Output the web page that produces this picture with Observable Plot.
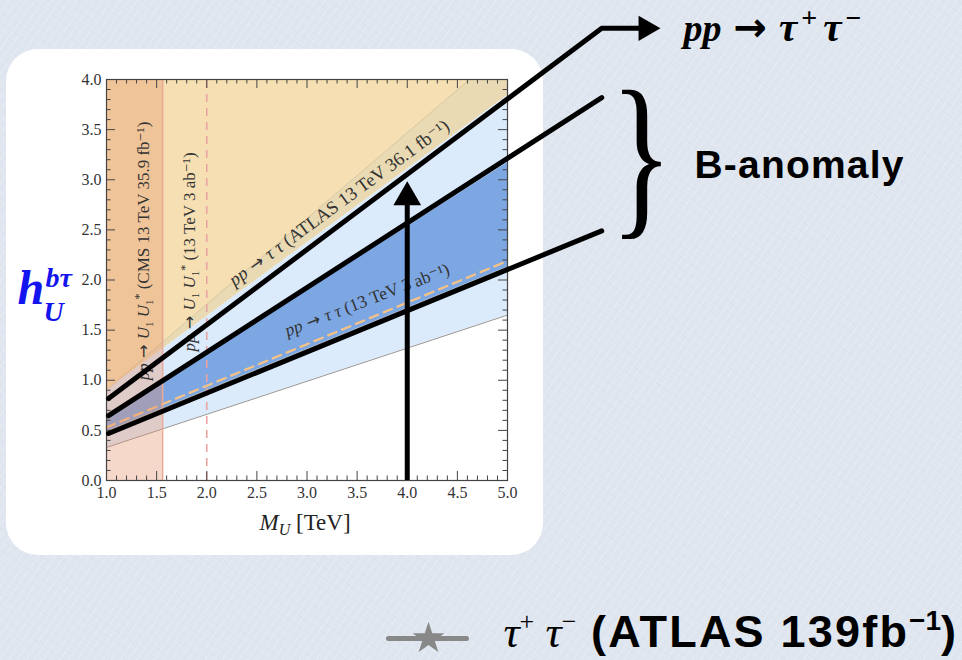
<!DOCTYPE html>
<html><head><meta charset="utf-8">
<script src="https://cdn.jsdelivr.net/npm/d3@7"></script>
<script src="https://cdn.jsdelivr.net/npm/@observablehq/plot@0.6"></script>
<style>
html,body{margin:0;padding:0;}
body{width:962px;height:660px;overflow:hidden;position:relative;background-color:#dfe6ef;
  background-image:repeating-linear-gradient(125deg, rgba(255,255,255,0.22) 0 1px, rgba(255,255,255,0) 1px 7px),
                   repeating-linear-gradient(35deg, rgba(200,210,225,0.18) 0 1px, rgba(255,255,255,0) 1px 9px);}
#card{position:absolute;left:6px;top:49px;width:537px;height:506px;background:#fff;border-radius:32px;}
#chart{position:absolute;left:0;top:0;}
</style></head><body>
<div id="card"></div>
<div id="chart"></div>
<script>
// ---- axis ticks ----
const massTicks = [1.0, 1.5, 2.0, 2.5, 3.0, 3.5, 4.0, 4.5, 5.0];
const couplingTicks = [0.0, 0.5, 1.0, 1.5, 2.0, 2.5, 3.0, 3.5, 4.0];
const massMinor = d3.range(10, 51).map(d => d / 10).filter(d => !massTicks.includes(d));
const couplingMinor = d3.range(0, 41).map(d => d / 10).filter(d => !couplingTicks.includes(d));

// ---- regions (M_U in TeV, coupling h) ----
const bandMass = [1.0, 5.0];
const reachLow = [0.33, 1.65];      // light blue lower edge
const reachHigh = [0.90, 3.84];     // light blue upper edge
const anomalyLow = [0.49, 2.13];    // dark blue band
const anomalyHigh = [0.62, 3.17];
const projTauTau = [0.53, 2.19];    // pp->tautau 13 TeV 3 ab^-1 (dashed)
const atlasMass = [1.0, 4.62, 5.0];
const atlasBound = [0.90, 4.0, 4.0];// ATLAS 36.1 fb^-1 exclusion
const cmsMass = 1.56;               // CMS pair production limit
const hlPairMass = 2.0;             // HL-LHC pair production reach
const couplingMax = 4.0;

// ---- callout lines ----
const calloutMass = [1.02, 5.94];
const calloutTauTau = [0.818, 4.51];
const calloutUpper = [0.648, 3.82];
const calloutLower = [0.469, 2.49];
const benchmarkMass = 4.0;
const benchmarkTop = 2.8;

const band = (lo, hi) => bandMass.map((x, i) => ({x, lo: lo[i], hi: hi[i]}));
const atlasRows = atlasMass.map((x, i) => ({x, lo: atlasBound[i], hi: couplingMax}));
const pts = (xs, ys) => xs.map((x, i) => ({x, y: ys[i]}));
const tauLine = pts(calloutMass, calloutTauTau);
tauLine.push({x: 6.33, y: calloutTauTau[1]});

const serif = "'Liberation Serif', 'DejaVu Serif', serif";
const sans = "'Liberation Sans', Arial, sans-serif";
const arrowFont = "'DejaVu Sans', sans-serif";

const L1 = "pp → U1U1* (CMS 13 TeV 35.9 fb⁻¹)";
const L2 = "pp → U1U1* (13 TeV 3 ab⁻¹)";
const L3 = "pp → ττ (ATLAS 13 TeV 36.1 fb⁻¹)";
const L4 = "pp → ττ (13 TeV 3 ab⁻¹)";
const blue = "#1414ee";

const svg = Plot.plot({
  width: 962, height: 660,
  marginLeft: 106, marginRight: 455, marginTop: 79, marginBottom: 180,
  x: {domain: [1, 5], axis: null},
  y: {domain: [0, 4], axis: null},
  style: {background: "transparent", fontFamily: serif, fontSize: "16px", overflow: "visible", color: "#333"},
  marks: [
    Plot.areaY(band(reachLow, reachHigh), {x: "x", y1: "lo", y2: "hi", fill: "#dcebfb"}),
    Plot.areaY(band(reachHigh, [couplingMax, couplingMax]), {x: "x", y1: "lo", y2: "hi", fill: "#e9dab4"}),
    Plot.areaY(atlasRows, {x: "x", y1: "lo", y2: "hi", fill: "#f6e0b3"}),
    Plot.line(pts(atlasMass, atlasBound), {x: "x", y: "y", stroke: "#d6c49c", strokeWidth: 0.8}),
    Plot.areaY(band(anomalyLow, anomalyHigh), {x: "x", y1: "lo", y2: "hi", fill: "#7da7e3"}),
    Plot.line(pts(bandMass, reachLow), {x: "x", y: "y", stroke: "#888", strokeWidth: 0.9}),
    Plot.line(pts(bandMass, anomalyLow), {x: "x", y: "y", stroke: "#999", strokeWidth: 0.9}),
    Plot.line(pts(bandMass, projTauTau), {x: "x", y: "y", stroke: "#f4c287", strokeWidth: 2.2, strokeDasharray: "9,6"}),
    Plot.rectY([cmsMass], {x1: 1, x2: d => d, y1: 0, y2: couplingMax, fill: "#e6906a", fillOpacity: 0.35}),
    Plot.ruleX([cmsMass], {y1: 0, y2: couplingMax, stroke: "#e9aa98", strokeWidth: 1.5}),
    Plot.ruleX([hlPairMass], {y1: 0, y2: couplingMax, stroke: "#eaa3a3", strokeWidth: 1.6, strokeDasharray: "8,6"}),
    // in-plot labels
    Plot.text([L1], {x: 1.37, y: 2.29, text: d => d, rotate: -90, fontSize: 17, fill: "#333"}),
    Plot.text([L2], {x: 1.828, y: 2.28, text: d => d, rotate: -90, fontSize: 17, fill: "#333"}),
    Plot.text([L3], {x: 3.32, y: 2.77, text: d => d, rotate: -36.2, fontSize: 18.5, fill: "#333"}),
    Plot.text([L4], {x: 3.60, y: 1.80, text: d => d, rotate: -21, fontSize: 17.5, fill: "#333"}),
    // frame and inward ticks
    Plot.frame({stroke: "#444", strokeWidth: 1.2}),
    Plot.ruleX(massTicks, {y1: 0, y2: 0.09, stroke: "#444"}),
    Plot.ruleX(massTicks, {y1: 4, y2: 3.91, stroke: "#444"}),
    Plot.ruleX(massMinor, {y1: 0, y2: 0.045, stroke: "#444"}),
    Plot.ruleX(massMinor, {y1: 4, y2: 3.955, stroke: "#444"}),
    Plot.ruleY(couplingTicks, {x1: 1, x2: 1.09, stroke: "#444"}),
    Plot.ruleY(couplingTicks, {x1: 5, x2: 4.91, stroke: "#444"}),
    Plot.ruleY(couplingMinor, {x1: 1, x2: 1.045, stroke: "#444"}),
    Plot.ruleY(couplingMinor, {x1: 5, x2: 4.955, stroke: "#444"}),
    Plot.axisX(massTicks, {tickSize: 0, tickPadding: 6, tickFormat: d => d.toFixed(1), label: null, fontSize: 16, fill: "#333"}),
    Plot.axisY(couplingTicks, {tickSize: 0, tickPadding: 5, tickFormat: d => d.toFixed(1), label: null, fontSize: 16, fill: "#333"}),
    Plot.text(["MU [TeV]"], {x: 2.526, y: -0.489, text: d => d, textAnchor: "start", lineAnchor: "bottom", fontSize: 23, fill: "#222"}),
    // y label
    Plot.text(["h"], {x: 0.112, y: 1.756, text: d => d, textAnchor: "start", lineAnchor: "bottom", fontSize: 48, fontWeight: "bold", fontStyle: "italic", fill: blue}),
    Plot.text(["bτ"], {x: 0.392, y: 1.935, text: d => d, textAnchor: "start", lineAnchor: "bottom", fontSize: 28, fontWeight: "bold", fontStyle: "italic", fill: blue}),
    Plot.text(["U"], {x: 0.372, y: 1.596, text: d => d, textAnchor: "start", lineAnchor: "bottom", fontSize: 28, fontWeight: "bold", fontStyle: "italic", fill: blue}),
    // callout lines
    Plot.line(tauLine, {x: "x", y: "y", stroke: "black", strokeWidth: 5, strokeLinejoin: "round"}),
    Plot.dot([6.38], {x: d => d, y: calloutTauTau[1], symbol: "triangle", r: 9.4, rotate: 90, fill: "black", stroke: "none"}),
    Plot.line(pts(calloutMass, calloutUpper), {x: "x", y: "y", stroke: "black", strokeWidth: 5}),
    Plot.line(pts(calloutMass, calloutLower), {x: "x", y: "y", stroke: "black", strokeWidth: 5}),
    Plot.ruleX([benchmarkMass], {y1: 0, y2: benchmarkTop, stroke: "black", strokeWidth: 5}),
    Plot.dot([benchmarkMass], {x: d => d, y: 2.826, symbol: "triangle", r: 10.3, fill: "black", stroke: "none"}),
    // annotations on the right
    Plot.text(["pp → τ+τ−"], {x: 6.756, y: 4.389, text: d => d, textAnchor: "start", lineAnchor: "bottom", fontSize: 38, fontWeight: "bold", fontStyle: "italic", fill: "#000"}),
    Plot.text(["}"], {x: 6.337, y: 2.936, text: d => d, textAnchor: "middle", lineAnchor: "bottom", fontSize: 100, fill: "#000", fontFamily: serif}),
    Plot.text(["B-anomaly"], {x: 6.865, y: 3.022, text: d => d, textAnchor: "start", lineAnchor: "bottom", fontSize: 39, fontWeight: 900, fontFamily: sans, fill: "#000"}),
    // bottom legend
    Plot.line(pts([3.813, 4.591], [-1.576, -1.576]), {x: "x", y: "y", stroke: "#888", strokeWidth: 5}),
    Plot.dot([4.212], {x: d => d, y: -1.576, symbol: "star", r: 10, fill: "#888", stroke: "none"}),
    Plot.text(["τ+ τ− (ATLAS 139fb−1)"], {x: 4.96, y: -1.656, text: d => d, textAnchor: "start", lineAnchor: "bottom", fontSize: 45, fontWeight: "bold", fontFamily: sans, fill: "#000"})
  ]
});
document.getElementById("chart").appendChild(svg);

function rich(match, parts) {
  d3.select(svg).selectAll("text").filter(function() { return this.textContent === match; })
    .each(function() {
      const t = d3.select(this);
      t.text(null);
      for (const p of parts) {
        const s = t.append("tspan").text(p.t);
        for (const [k, v] of Object.entries(p)) if (k !== "t") s.attr(k, v);
      }
    });
}
const it = {"font-style": "italic"};
const arr = {t: " → ", "font-family": arrowFont, "font-size": "0.95em"};
const pairParts = [
  {t: "pp", ...it}, arr, {t: "U", ...it}, {t: "1", dy: 4, "font-size": 11},
  {t: " U", dy: -4, ...it}, {t: "1", dy: 4, "font-size": 11}, {t: "*", dy: -10, "font-size": 12}, {t: " ", dy: 6}
];
rich(L1, [...pairParts, {t: "(CMS 13 TeV 35.9 fb⁻¹)"}]);
rich(L2, [...pairParts, {t: "(13 TeV 3 ab⁻¹)"}]);
rich(L3, [{t: "pp", ...it}, arr, {t: "τ τ", ...it}, {t: " (ATLAS 13 TeV 36.1 fb⁻¹)"}]);
rich(L4, [{t: "pp", ...it}, arr, {t: "τ τ", ...it}, {t: " (13 TeV 3 ab⁻¹)"}]);
rich("MU [TeV]", [{t: "M", ...it}, {t: "U", ...it, dy: 5, "font-size": 16}, {t: " [TeV]", dy: -5}]);
rich("pp → τ+τ−", [
  {t: "pp"},
  {t: "→", "font-style": "normal", "font-family": arrowFont, "font-size": 40, dx: 12},
  {t: "τ", "font-size": 41, dx: 12},
  {t: "+", dy: -14, "font-size": 28, "font-style": "normal", dx: 4},
  {t: "τ", dy: 14, "font-size": 41, dx: 6},
  {t: "−", dy: -14, "font-size": 28, "font-style": "normal", dx: 4}
]);
rich("τ+ τ− (ATLAS 139fb−1)", [
  {t: "τ", "font-family": serif, "font-style": "italic", "font-weight": "normal"},
  {t: "+", dy: -17, "font-size": 26, "font-family": serif, "font-weight": "normal"},
  {t: " τ", dy: 17, "font-family": serif, "font-style": "italic", "font-weight": "normal"},
  {t: "−", dy: -17, "font-size": 26, "font-family": serif, "font-weight": "normal"},
  {t: " (ATLAS 139fb", dy: 17, "letter-spacing": "2.2px"},
  {t: "−1", dy: -17, "font-size": 28},
  {t: ")", dy: 17}
]);
d3.select(svg).selectAll("text").filter(function() { return this.textContent === "B-anomaly"; })
  .attr("letter-spacing", "1.2px");
// stretch the brace vertically
d3.select(svg).selectAll("text").filter(function() { return this.textContent === "}"; })
  .each(function() {
    const b = this.getBBox();
    const cx = b.x + b.width / 2, cy = b.y + b.height / 2;
    const prev = this.getAttribute("transform") || "";
    this.setAttribute("transform", `${prev} translate(${cx},${cy + 2}) scale(1.3,1.8) translate(${-cx},${-cy})`);
  });
</script>
</body></html>
